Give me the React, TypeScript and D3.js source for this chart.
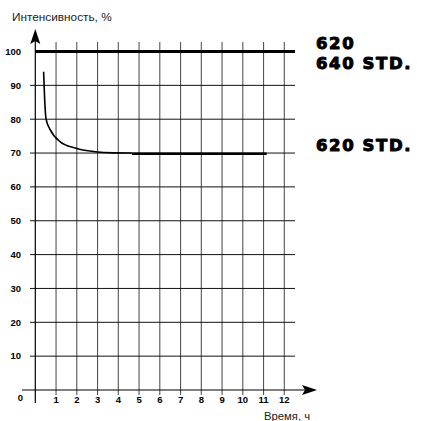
import * as d3 from "d3";
import React, { useEffect, useRef } from "react";

const hourTicks = [1, 2, 3, 4, 5, 6, 7, 8, 9, 10, 11, 12];
const levelTicks = [10, 20, 30, 40, 50, 60, 70, 80, 90, 100];
const decayCurve: [number, number][] = [
  [0.4, 94],
  [0.45, 86],
  [0.52, 80],
  [0.71, 77],
  [1.19, 73.4],
  [1.91, 71.5],
  [2.88, 70.4],
  [3.8, 70.05],
  [4.65, 70],
];
const plateau: [number, number][] = [
  [4.65, 69.8],
  [11.15, 69.8],
];
const seriesLabels = [
  { text: "620", level: 100.8 },
  { text: "640 STD.", level: 94.8 },
  { text: "620 STD.", level: 70.6 },
];

const W = 421;
const H = 421;

const App: React.FC = () => {
  const ref = useRef<SVGSVGElement>(null);

  useEffect(() => {
    if (!ref.current) return;
    const svg = d3.select(ref.current);
    svg.selectAll("*").remove();

    const x = d3.scaleLinear().domain([0, 12]).range([35.3, 284.3]);
    const y = d3.scaleLinear().domain([0, 100]).range([390, 51.5]);
    const font = "'Liberation Sans', Arial, sans-serif";

    // vertical grid
    svg
      .append("g")
      .selectAll("line")
      .data(hourTicks)
      .enter()
      .append("line")
      .attr("x1", (d) => x(d))
      .attr("x2", (d) => x(d))
      .attr("y1", 42)
      .attr("y2", 395)
      .attr("stroke", "#555")
      .attr("stroke-width", 1.1);

    // horizontal grid
    svg
      .append("g")
      .selectAll("line")
      .data(levelTicks.filter((d) => d < 100))
      .enter()
      .append("line")
      .attr("x1", 30)
      .attr("x2", 295)
      .attr("y1", (d) => y(d))
      .attr("y2", (d) => y(d))
      .attr("stroke", "#111")
      .attr("stroke-width", 1);

    // 100% line
    svg
      .append("line")
      .attr("x1", 35)
      .attr("x2", 295)
      .attr("y1", y(100))
      .attr("y2", y(100))
      .attr("stroke", "#000")
      .attr("stroke-width", 3);

    // axes
    svg
      .append("line")
      .attr("x1", x(0))
      .attr("x2", x(0))
      .attr("y1", 40)
      .attr("y2", 403)
      .attr("stroke", "#000")
      .attr("stroke-width", 1.2);
    svg
      .append("path")
      .attr("d", `M${x(0)},29 L${x(0) + 5},44 L${x(0)},41 L${x(0) - 5},44 Z`)
      .attr("fill", "#000");

    svg
      .append("line")
      .attr("x1", 22)
      .attr("x2", 306)
      .attr("y1", y(0))
      .attr("y2", y(0))
      .attr("stroke", "#000")
      .attr("stroke-width", 1.2);
    svg
      .append("path")
      .attr("d", `M317,${y(0)} L302,${y(0) - 5} L305,${y(0)} L302,${y(0) + 5} Z`)
      .attr("fill", "#000");

    // y tick labels
    svg
      .append("g")
      .selectAll("text")
      .data(levelTicks)
      .enter()
      .append("text")
      .attr("x", 21)
      .attr("y", (d) => y(d))
      .attr("dy", "0.35em")
      .attr("text-anchor", "end")
      .style("font-family", font)
      .style("font-weight", "bold")
      .style("font-size", "9.5px")
      .text((d) => d);
    svg
      .append("text")
      .attr("x", 23)
      .attr("y", 400.5)
      .attr("text-anchor", "end")
      .style("font-family", font)
      .style("font-weight", "bold")
      .style("font-size", "9.5px")
      .text("0");

    // x tick labels
    svg
      .append("g")
      .selectAll("text")
      .data(hourTicks)
      .enter()
      .append("text")
      .attr("x", (d) => x(d))
      .attr("y", 402.5)
      .attr("text-anchor", "middle")
      .style("font-family", font)
      .style("font-weight", "bold")
      .style("font-size", "9.5px")
      .text((d) => d);

    // axis titles
    svg
      .append("text")
      .attr("x", 12)
      .attr("y", 20.5)
      .style("font-family", font)
      .style("font-size", "11.8px")
      .style("fill", "#222")
      .text("Интенсивность, %");
    svg
      .append("text")
      .attr("x", 264)
      .attr("y", 419.5)
      .style("font-family", font)
      .style("font-size", "11.3px")
      .style("fill", "#222")
      .text("Время, ч");

    // curves
    const line = d3
      .line<[number, number]>()
      .x((d) => x(d[0]))
      .y((d) => y(d[1]))
      .curve(d3.curveMonotoneX);
    svg
      .append("path")
      .attr("d", line(decayCurve) || "")
      .attr("fill", "none")
      .attr("stroke", "#000")
      .attr("stroke-width", 1.6);
    svg
      .append("path")
      .attr("d", line(plateau) || "")
      .attr("fill", "none")
      .attr("stroke", "#000")
      .attr("stroke-width", 2.4);

    // series labels
    svg
      .append("g")
      .selectAll("text")
      .data(seriesLabels)
      .enter()
      .append("text")
      .attr("x", 316)
      .attr("y", (d) => y(d.level))
      .style("font-family", "'DejaVu Sans', sans-serif")
      .style("font-weight", "bold")
      .style("font-size", "16.5px")
      .style("letter-spacing", "1.6px")
      .attr("stroke", "#000")
      .attr("stroke-width", 1)
      .attr("stroke-linejoin", "round")
      .text((d) => d.text);
  }, []);

  return (
    <svg
      ref={ref}
      width={W}
      height={H}
      style={{ position: "absolute", left: 0, top: 0, background: "#fff" }}
    ></svg>
  );
};

export default App;
